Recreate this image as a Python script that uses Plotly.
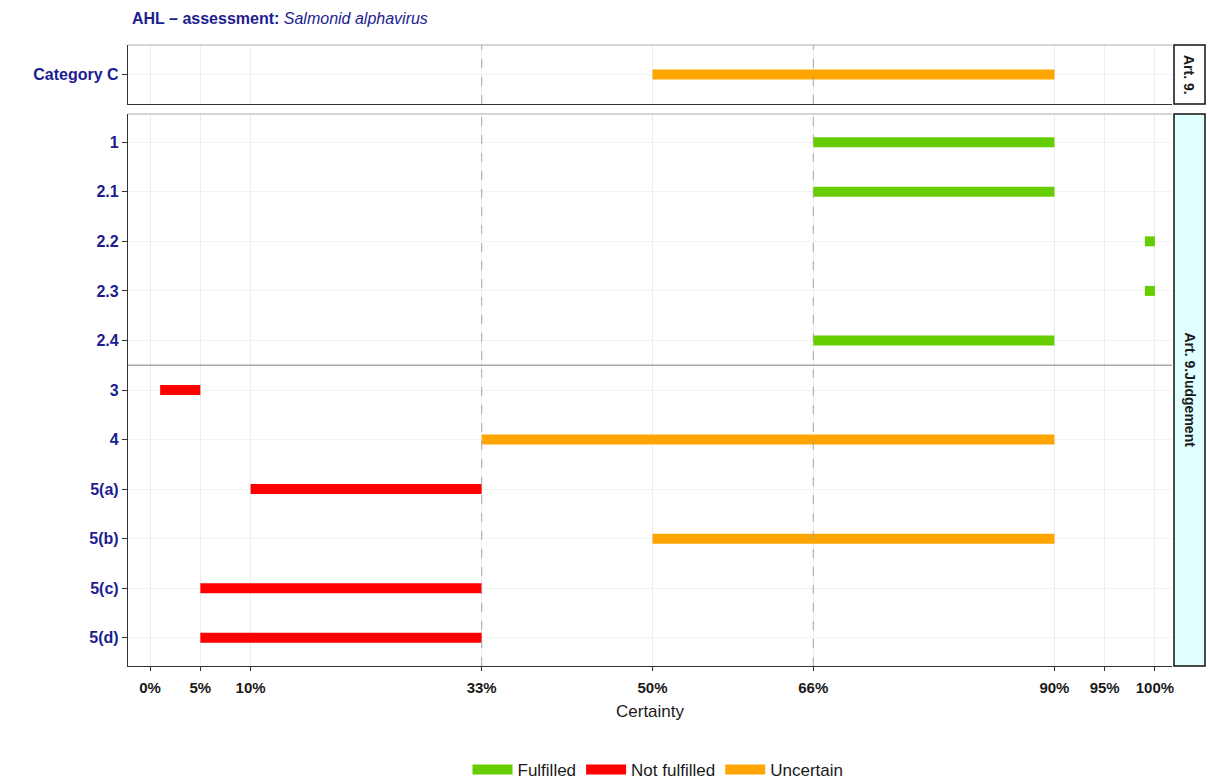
import plotly.graph_objects as go

# ---------------- data ----------------
title_bold = "AHL – assessment:"
title_italic = "Salmonid alphavirus"
x_title = "Certainty"

panels = ["Art. 9.", "Art. 9.Judgement"]
rows_top = ["Category C"]
rows_bottom = ["1", "2.1", "2.2", "2.3", "2.4", "3", "4", "5(a)", "5(b)", "5(c)", "5(d)"]

seg_panel = ["Art. 9.", "Art. 9.Judgement", "Art. 9.Judgement", "Art. 9.Judgement",
             "Art. 9.Judgement", "Art. 9.Judgement", "Art. 9.Judgement", "Art. 9.Judgement",
             "Art. 9.Judgement", "Art. 9.Judgement", "Art. 9.Judgement", "Art. 9.Judgement"]
seg_row = ["Category C", "1", "2.1", "2.2", "2.3", "2.4", "3", "4", "5(a)", "5(b)", "5(c)", "5(d)"]
seg_start = [50, 66, 66, 99, 99, 66, 1, 33, 10, 50, 5, 5]
seg_end = [90, 90, 90, 100, 100, 90, 5, 90, 33, 90, 33, 33]
seg_status = ["Uncertain", "Fulfilled", "Fulfilled", "Fulfilled", "Fulfilled", "Fulfilled",
              "Not fulfilled", "Uncertain", "Not fulfilled", "Uncertain", "Not fulfilled", "Not fulfilled"]

statuses = ["Fulfilled", "Not fulfilled", "Uncertain"]
status_colors = ["#66CD00", "#FF0000", "#FFA500"]

x_ticks = [0, 5, 10, 33, 50, 66, 90, 95, 100]
x_ticklabels = ["0%", "5%", "10%", "33%", "50%", "66%", "90%", "95%", "100%"]
dashed_x = [33, 66]
separator_after = "2.4"

# ---------------- styling ----------------
LABEL_BLUE = "#1d1d8f"
AXIS_DARK = "#333333"
FONT = "Liberation Sans, Arial, sans-serif"

W, H = 1210, 782
ml, mr, mt, mb = 128, 5, 45, 116
plot_w = W - ml - mr
plot_h = H - mt - mb
panel_right_px = 1172
x_dom_end = (panel_right_px - ml) / plot_w
top_dom = [(666 - 104) / plot_h, 1.0]
bot_dom = [0.0, (666 - 114) / plot_h]
strip_x0 = (1174 - ml) / plot_w
strip_x1 = (1205 - ml) / plot_w

fig = go.Figure()

axes_for_panel = {"Art. 9.": ("x", "y"), "Art. 9.Judgement": ("x2", "y2")}
shown = set()
for pname in panels:
    xa, ya = axes_for_panel[pname]
    for st, col in zip(statuses, status_colors):
        xs, ys = [], []
        for p, r, s, e, stt in zip(seg_panel, seg_row, seg_start, seg_end, seg_status):
            if p == pname and stt == st:
                xs += [s, e, None]
                ys += [r, r, None]
        if not xs:
            continue
        fig.add_trace(go.Scatter(
            x=xs, y=ys, mode="lines", xaxis=xa, yaxis=ya,
            line=dict(color=col, width=10),
            name=st, legendgroup=st, showlegend=st not in shown,
            legendrank=statuses.index(st) + 1, hoverinfo="skip",
        ))
        shown.add(st)

xrange = [-2.2, 101.7]
common_x = dict(range=xrange, tickvals=x_ticks, showgrid=True, gridcolor="#ececec",
                gridwidth=1, zeroline=False, domain=[0, x_dom_end], automargin=False)
fig.update_layout(
    xaxis=dict(**common_x, anchor="y", showticklabels=False, ticks="",
               showline=True, linecolor=AXIS_DARK, linewidth=1.3, matches="x2"),
    xaxis2=dict(**common_x, anchor="y2", ticktext=x_ticklabels, ticks="outside",
                ticklen=4, tickcolor=AXIS_DARK, showline=True, linecolor=AXIS_DARK,
                linewidth=1.3, ticklabelstandoff=4,
                tickfont=dict(family=FONT, size=15, color="#1a1a1a", weight="bold")),
    yaxis=dict(domain=top_dom, anchor="x", type="category", categoryorder="array",
               categoryarray=rows_top, range=[0.6, -0.6], showgrid=True, gridcolor="#f3f3f3",
               ticks="outside", ticklen=5, tickcolor=AXIS_DARK, showline=True,
               linecolor=AXIS_DARK, linewidth=1.3, zeroline=False, automargin=False,
               tickfont=dict(family=FONT, size=16, color=LABEL_BLUE, weight="bold")),
    yaxis2=dict(domain=bot_dom, anchor="x2", type="category", categoryorder="array",
                categoryarray=rows_bottom, range=[len(rows_bottom) - 0.43, -0.57],
                showgrid=True, gridcolor="#f3f3f3", ticks="outside", ticklen=5,
                tickcolor=AXIS_DARK, showline=True, linecolor=AXIS_DARK, linewidth=1.3,
                zeroline=False, automargin=False,
                tickfont=dict(family=FONT, size=16, color=LABEL_BLUE, weight="bold")),
)

shapes = []
# dashed reference lines
for xv in dashed_x:
    for xa, ya in [("x", "y domain"), ("x2", "y2 domain")]:
        shapes.append(dict(type="line", xref=xa, yref=ya, x0=xv, x1=xv, y0=0, y1=1,
                           line=dict(color="#a0a0a0", width=1, dash="dash"), layer="above",
                           opacity=0.9))
# light top borders of panels
for xa, ya in [("x domain", "y domain"), ("x2 domain", "y2 domain")]:
    shapes.append(dict(type="line", xref=xa, yref=ya, x0=0, x1=1, y0=1, y1=1,
                       line=dict(color="#c8c8c8", width=1.3)))
# separator between groups
sep_y = rows_bottom.index(separator_after) + 0.5
shapes.append(dict(type="line", xref="x2 domain", yref="y2", x0=0, x1=1, y0=sep_y, y1=sep_y,
                   line=dict(color="#aaaaaa", width=1.5)))
# strips
strip_fills = ["#FFFFFF", "#E0FFFF"]
strip_doms = [top_dom, bot_dom]
annotations = []
for pname, fill, dom in zip(panels, strip_fills, strip_doms):
    shapes.append(dict(type="rect", xref="paper", yref="paper", x0=strip_x0, x1=strip_x1,
                       y0=dom[0], y1=dom[1], fillcolor=fill, line=dict(color="#111111", width=1.5)))
    annotations.append(dict(xref="paper", yref="paper", x=(strip_x0 + strip_x1) / 2,
                            y=(dom[0] + dom[1]) / 2, xanchor="center", yanchor="middle",
                            text=f"<b>{pname}</b>", textangle=90,
                            showarrow=False, font=dict(family=FONT, size=14, color="#1a1a1a")))

# title
annotations.append(dict(xref="paper", yref="paper", x=(130 - ml) / plot_w, y=(666 - 18) / plot_h,
                        xanchor="left", yanchor="middle", showarrow=False,
                        text=f"<b>{title_bold}</b> <i>{title_italic}</i>",
                        font=dict(family=FONT, size=16, color=LABEL_BLUE)))
# x-axis title
annotations.append(dict(xref="paper", yref="paper", x=x_dom_end / 2, y=(666 - 712) / plot_h,
                        xanchor="center", yanchor="middle", showarrow=False, text=x_title,
                        font=dict(family=FONT, size=17, color="#1a1a1a")))

fig.update_layout(
    width=W, height=H,
    margin=dict(l=ml, r=mr, t=mt, b=mb, autoexpand=False),
    paper_bgcolor="white", plot_bgcolor="white",
    shapes=shapes, annotations=annotations,
    showlegend=True,
    legend=dict(orientation="h", x=(658 - ml) / plot_w, xanchor="center",
                y=(666 - 770) / plot_h, yanchor="middle",
                font=dict(family=FONT, size=17, color="#1a1a1a"),
                itemwidth=40, traceorder="normal"),
)

fig.write_html("out.html", config={"displayModeBar": False},
               post_script="document.body.style.margin='0px';document.body.style.overflow='hidden';")
